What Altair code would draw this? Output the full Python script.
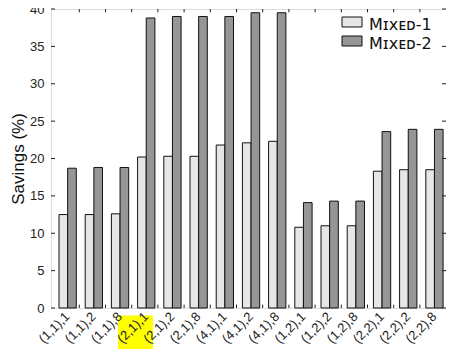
import altair as alt
import pandas as pd

categories = ["(1,1),1", "(1,1),2", "(1,1),8", "(2,1),1", "(2,1),2", "(2,1),8",
              "(4,1),1", "(4,1),2", "(4,1),8", "(1,2),1", "(1,2),2", "(1,2),8",
              "(2,2),1", "(2,2),2", "(2,2),8"]
mixed1 = [12.5, 12.5, 12.6, 20.2, 20.3, 20.3, 21.8, 22.1, 22.3, 10.8, 11.0, 11.0, 18.3, 18.5, 18.5]
mixed2 = [18.7, 18.8, 18.8, 38.8, 39.0, 39.0, 39.0, 39.5, 39.5, 14.1, 14.3, 14.3, 23.6, 23.9, 23.9]
series_names = ["Mɪxᴇᴅ-1", "Mɪxᴇᴅ-2"]
series_colors = ["#e6e6e6", "#969696"]
y_ticks = [0, 5, 10, 15, 20, 25, 30, 35, 40]
highlight_from = "(1,1),8"
highlight_to = "(2,1),1"

W, H = 395, 299

rows = []
for c, a, b in zip(categories, mixed1, mixed2):
    rows.append({"cat": c, "series": series_names[0], "value": a})
    rows.append({"cat": c, "series": series_names[1], "value": b})
df = pd.DataFrame(rows)
cat_df = pd.DataFrame({"cat": categories})
tick_cat_df = pd.DataFrame({"cat": categories[:-1]})
ytick_df = pd.DataFrame({"v": y_ticks})
one_df = pd.DataFrame({"k": [0]})

xscale = alt.Scale(domain=categories, paddingInner=0.34, paddingOuter=0.208, align=0.734)
yscale = alt.Scale(domain=[0, 40], nice=False, zero=False)

xaxis = alt.Axis(title=None, labelAngle=-45, labelAlign="right", labelBaseline="middle",
                 labelPadding=6, ticks=False, tickSize=0, domain=False, zindex=1,
                 labelFont="Liberation Sans", labelFontSize=13, labelColor="#222222")
yaxis = alt.Axis(title="Savings (%)", values=y_ticks, ticks=False, tickSize=0, domain=False,
                 grid=False, labelPadding=7, labelFont="Liberation Sans", labelFontSize=13,
                 labelColor="#222222", titleFont="Liberation Sans", titleFontSize=17,
                 titleFontWeight="normal", titleColor="#111111", titlePadding=2)

highlight = alt.Chart(cat_df).transform_filter(alt.datum.cat == highlight_from).mark_rect(
    color="#ffff00", opacity=1).encode(
    x=alt.X(datum=highlight_from, bandPosition=0.38, type="nominal", scale=xscale, axis=xaxis),
    x2=alt.X2(datum=highlight_to, bandPosition=0.89),
    y=alt.Y(datum=-1.0, type="quantitative", scale=yscale, axis=yaxis),
    y2=alt.Y2(datum=-8.0),
)

bars = alt.Chart(df).mark_bar(stroke="#111111", strokeWidth=1).encode(
    x=alt.X("cat:N", sort=categories, scale=xscale, axis=xaxis),
    xOffset=alt.XOffset("series:N", sort=series_names,
                        scale=alt.Scale(paddingInner=0, paddingOuter=0)),
    y=alt.Y("value:Q", scale=yscale, axis=yaxis),
    color=alt.Color("series:N", sort=series_names,
                    scale=alt.Scale(domain=series_names, range=series_colors),
                    legend=None),
)

bottom_ticks = alt.Chart(tick_cat_df).mark_rule(color="#222222", strokeWidth=1, xOffset=3).encode(
    x=alt.X("cat:N", sort=categories, scale=xscale, bandPosition=1, axis=xaxis),
    y=alt.Y(datum=0, type="quantitative", scale=yscale, axis=yaxis),
    y2=alt.Y2(datum=0.45),
)
top_ticks = alt.Chart(tick_cat_df).mark_rule(color="#222222", strokeWidth=1, xOffset=3).encode(
    x=alt.X("cat:N", sort=categories, scale=xscale, bandPosition=1, axis=xaxis),
    y=alt.Y(datum=40, type="quantitative", scale=yscale, axis=yaxis),
    y2=alt.Y2(datum=39.55),
)
left_ticks = alt.Chart(ytick_df).mark_rule(color="#222222", strokeWidth=1).encode(
    y=alt.Y("v:Q", scale=yscale, axis=yaxis),
    x=alt.value(0), x2=alt.value(4),
)
right_ticks = alt.Chart(ytick_df).mark_rule(color="#222222", strokeWidth=1).encode(
    y=alt.Y("v:Q", scale=yscale, axis=yaxis),
    x=alt.value(W), x2=alt.value(W - 4),
)

# legend (drawn as a small key in the upper right)
legend_layers = []
for i, (name, col) in enumerate(zip(series_names, series_colors)):
    top = 8 + 19 * i
    legend_layers.append(
        alt.Chart(one_df).mark_rect(stroke="#111111", strokeWidth=1).encode(
            x=alt.value(291), x2=alt.value(311),
            y=alt.value(top), y2=alt.value(top + 10),
            color=alt.value(col),
        )
    )
    legend_layers.append(
        alt.Chart(one_df).mark_text(align="left", baseline="alphabetic", font="DejaVu Sans",
                                    fontSize=16, color="#111111").encode(
            x=alt.value(318), y=alt.value(top + 13),
            text=alt.value(name),
        )
    )

chart = alt.layer(highlight, bars, bottom_ticks, top_ticks, left_ticks, right_ticks,
                  *legend_layers).properties(
    width=W, height=H,
    autosize=alt.AutoSizeParams(type="none"),
    padding={"left": 43, "top": 1, "right": 0, "bottom": 41},
).configure_view(stroke="#111111", strokeWidth=1).configure(background="white")

chart.save("out.html", embed_options={"renderer": "svg", "actions": False})
